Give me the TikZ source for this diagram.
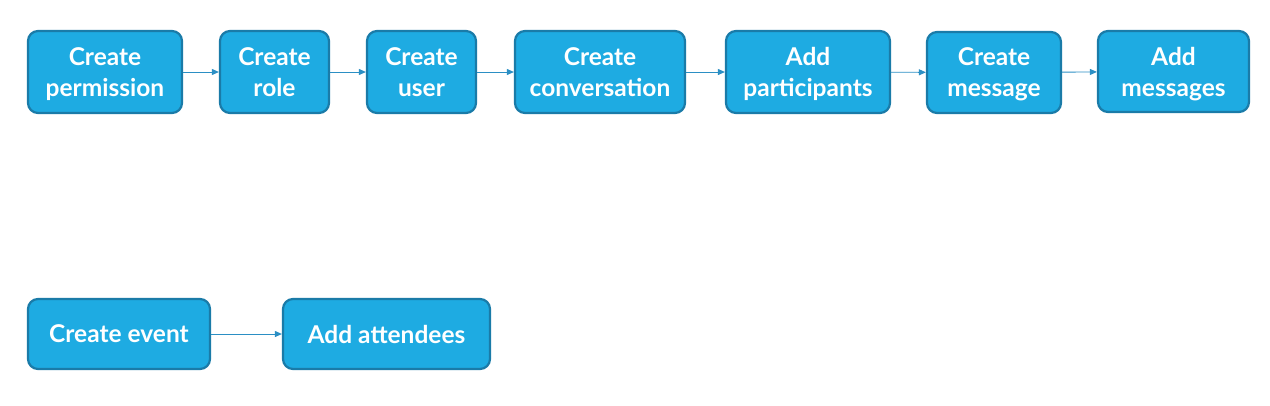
\documentclass[tikz,border=0pt]{standalone}
\usepackage{fontspec}
\setmainfont{Lato}
\usetikzlibrary{arrows.meta}
\definecolor{boxfill}{HTML}{1EABE2}
\definecolor{boxdraw}{HTML}{1A7BA8}
\definecolor{arrowc}{HTML}{2B8FC4}
\tikzset{
  box/.style={draw=boxdraw, line width=2.2pt, fill=boxfill, rounded corners=10pt, text=white,
    font=\fontsize{24.5}{31}\selectfont\bfseries, align=center, inner sep=0pt},
  twoline/.style={text depth=0pt},
  conn/.style={draw=arrowc, line width=0.9pt, -{Triangle[length=7pt,width=6pt]}}
}
\newcommand{\boxat}[7][]{% opts, name, x1,y1,x2,y2,text
  \node[box, #1, minimum width={#5-#3}, minimum height={#6-#4}] (#2) at ({(#3+#5)/2},{(#4+#6)/2}) {#7};}
\begin{document}
\begin{tikzpicture}[x=1pt,y=-1pt]
\useasboundingbox (0,0) rectangle (1270,405);
\boxat[twoline]{a}{28}{31}{182}{113}{Create\\permission}
\boxat[twoline]{b}{220}{31}{329}{113}{Create\\role}
\boxat[twoline]{c}{367}{31}{476}{113}{Create\\user}
\boxat[twoline]{d}{515}{31}{685}{113}{Create\\conversation}
\boxat[twoline]{e}{726}{31}{890}{113}{Add\\participants}
\boxat[twoline]{f}{927}{32}{1061}{113}{Create\\message}
\boxat[twoline]{g}{1098}{31}{1249}{112}{Add\\messages}
\boxat{h}{28}{299}{210}{369}{Create event}
\boxat{i}{283}{299}{490}{369}{Add attendees}
\draw[conn] (a) -- (b);
\draw[conn] (b) -- (c);
\draw[conn] (c) -- (d);
\draw[conn] (d) -- (e);
\draw[conn] (e) -- (f);
\draw[conn] (f) -- (g);
\draw[conn] (h) -- (i);
\end{tikzpicture}
\end{document}
